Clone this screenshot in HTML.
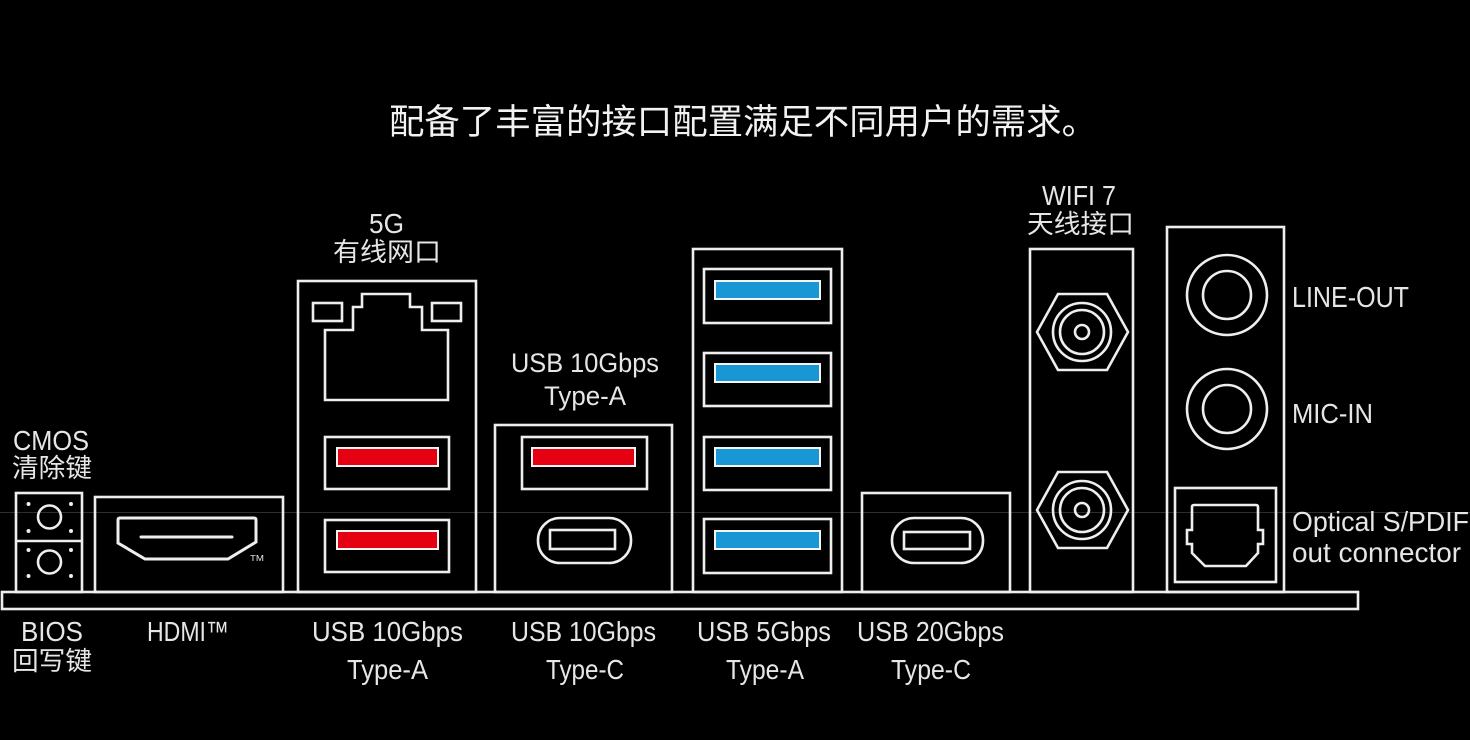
<!DOCTYPE html>
<html>
<head>
<meta charset="utf-8">
<style>
  html, body { margin:0; padding:0; background:#000; }
  body { width:1470px; height:740px; overflow:hidden; }
  svg { display:block; }
  .lat { font-family:"Liberation Sans", "Noto Sans CJK SC", sans-serif; }
  .cjk { font-family:"Liberation Sans", "Noto Sans CJK SC", sans-serif; }
</style>
</head>
<body>
<svg width="1470" height="740" viewBox="0 0 1470 740" xmlns="http://www.w3.org/2000/svg">
  <rect x="0" y="0" width="1470" height="740" fill="#000"/>
  <!-- faint scan line -->
  <line x1="0" y1="512.5" x2="1470" y2="512.5" stroke="#2e2e2e" stroke-width="1"/>

  <!-- Title -->
  <text class="cjk" x="389" y="134" font-size="35" fill="#f2f2f2" textLength="708" lengthAdjust="spacingAndGlyphs">配备了丰富的接口配置满足不同用户的需求。</text>

  <g fill="none" stroke="#eeeeee" stroke-width="2.6" stroke-linejoin="miter">
    <!-- Base bar -->
    <rect x="2" y="592" width="1356" height="17"/>

    <!-- CMOS / BIOS buttons -->
    <rect x="16" y="493" width="66" height="99"/>
    <line x1="16" y1="541" x2="82" y2="541"/>
    <circle cx="49.5" cy="517" r="11.5"/>
    <circle cx="49.5" cy="562" r="11.5"/>

    <!-- HDMI -->
    <rect x="95" y="497" width="188" height="95"/>
    <path d="M119,518 L254,518 Q256,518 256,520 L256,542 L228,559 L145,559 L118,543 L118,520 Q118,518 120,518 Z" stroke-width="3"/>
    <line x1="141" y1="537" x2="232" y2="537" stroke-width="3" stroke-linecap="round"/>

    <!-- LAN + USB 10G A -->
    <rect x="298" y="281" width="178" height="311"/>
    <rect x="313" y="303" width="29" height="18"/>
    <rect x="432" y="303" width="29" height="18"/>
    <path d="M325,400 L325,330 L353,330 L353,307 L362,307 L362,294 L410,294 L410,307 L422,307 L422,330 L448,330 L448,400 Z"/>
    <rect x="325" y="437" width="124" height="52"/>
    <rect x="325" y="520" width="124" height="52"/>

    <!-- USB 10G A/C -->
    <rect x="495" y="425" width="177" height="167"/>
    <rect x="522" y="437" width="125" height="52"/>
    <rect x="538" y="518" width="93" height="45" rx="22" ry="22"/>
    <rect x="550" y="530" width="65" height="19"/>

    <!-- USB 5G x4 -->
    <rect x="693" y="249" width="149" height="343"/>
    <rect x="704" y="269" width="127" height="54"/>
    <rect x="704" y="353" width="127" height="53"/>
    <rect x="704" y="437" width="127" height="53"/>
    <rect x="704" y="519" width="127" height="54"/>

    <!-- USB 20G C -->
    <rect x="862" y="493" width="148" height="99"/>
    <rect x="892" y="518" width="91" height="45" rx="22" ry="22"/>
    <rect x="904" y="532" width="66" height="17"/>

    <!-- WiFi -->
    <rect x="1030" y="249" width="103" height="343"/>
    <polygon points="1037,332 1058,294 1107,294 1128,332 1107,370 1058,370"/>
    <circle cx="1082" cy="332" r="29"/>
    <circle cx="1082" cy="332" r="22"/>
    <circle cx="1082" cy="332" r="7"/>
    <polygon points="1037,510 1058,472 1107,472 1128,510 1107,548 1058,548"/>
    <circle cx="1082" cy="510" r="29"/>
    <circle cx="1082" cy="510" r="22"/>
    <circle cx="1082" cy="510" r="7"/>

    <!-- Audio -->
    <rect x="1167" y="227" width="117" height="365"/>
    <circle cx="1227" cy="295" r="40"/>
    <circle cx="1227" cy="295" r="24"/>
    <circle cx="1227" cy="409" r="40"/>
    <circle cx="1227" cy="409" r="24"/>
    <rect x="1175" y="488" width="101" height="94"/>
    <path d="M1192,530 L1192,507 Q1192,505 1194,505 L1256,505 Q1258,505 1258,507 L1258,530 L1263,530 L1263,544 L1258,544 L1258,553 L1246,566 L1205,566 L1192,553 L1192,544 L1187,544 L1187,530 Z"/>
  </g>

  <!-- CMOS dots -->
  <g fill="#eeeeee">
    <circle cx="28.5" cy="504" r="2"/>
    <circle cx="71" cy="504" r="2"/>
    <circle cx="28.5" cy="531" r="2"/>
    <circle cx="71" cy="531" r="2"/>
    <circle cx="28.5" cy="550" r="2"/>
    <circle cx="71" cy="550" r="2"/>
    <circle cx="28.5" cy="576" r="2"/>
    <circle cx="71" cy="576" r="2"/>
  </g>

  <!-- Red USB tongues -->
  <g fill="#e50012" stroke="#f4f4f4" stroke-width="2">
    <rect x="337" y="448" width="101" height="18"/>
    <rect x="337" y="531" width="101" height="18"/>
    <rect x="532" y="448" width="103" height="18"/>
  </g>
  <!-- Blue USB tongues -->
  <g fill="#1897d4" stroke="#f4f4f4" stroke-width="2">
    <rect x="715" y="281" width="105" height="18"/>
    <rect x="715" y="364" width="105" height="18"/>
    <rect x="715" y="448" width="105" height="18"/>
    <rect x="715" y="531" width="105" height="18"/>
  </g>

  <!-- Labels -->
  <g fill="#e6e6e6" class="lat">
    <text x="250" y="561" font-size="8" textLength="14" lengthAdjust="spacingAndGlyphs">TM</text>

    <text x="13" y="450" font-size="28" textLength="76" lengthAdjust="spacingAndGlyphs">CMOS</text>
    <text x="12" y="477" font-size="26" textLength="80" lengthAdjust="spacingAndGlyphs">清除键</text>

    <text x="369" y="233" font-size="28" textLength="35" lengthAdjust="spacingAndGlyphs">5G</text>
    <text x="333" y="261" font-size="26" textLength="108" lengthAdjust="spacingAndGlyphs">有线网口</text>

    <text x="511" y="372" font-size="27" textLength="148" lengthAdjust="spacingAndGlyphs">USB 10Gbps</text>
    <text x="544" y="405" font-size="27" textLength="82" lengthAdjust="spacingAndGlyphs">Type-A</text>

    <text x="1042" y="205" font-size="28" textLength="74" lengthAdjust="spacingAndGlyphs">WIFI 7</text>
    <text x="1027" y="233" font-size="26" textLength="107" lengthAdjust="spacingAndGlyphs">天线接口</text>

    <text x="1292" y="307" font-size="29" textLength="117" lengthAdjust="spacingAndGlyphs">LINE-OUT</text>
    <text x="1292" y="423" font-size="28" textLength="81" lengthAdjust="spacingAndGlyphs">MIC-IN</text>
    <text x="1292" y="531" font-size="28" textLength="177" lengthAdjust="spacingAndGlyphs">Optical S/PDIF</text>
    <text x="1292" y="562" font-size="28" textLength="169" lengthAdjust="spacingAndGlyphs">out connector</text>

    <!-- bottom row -->
    <text x="21" y="641" font-size="28" textLength="62" lengthAdjust="spacingAndGlyphs">BIOS</text>
    <text x="12" y="670" font-size="26" textLength="80" lengthAdjust="spacingAndGlyphs">回写键</text>

    <text x="147" y="641" font-size="28" textLength="82" lengthAdjust="spacingAndGlyphs">HDMI™</text>

    <text x="312" y="641" font-size="28" textLength="151" lengthAdjust="spacingAndGlyphs">USB 10Gbps</text>
    <text x="347" y="679" font-size="28" textLength="81" lengthAdjust="spacingAndGlyphs">Type-A</text>

    <text x="511" y="641" font-size="28" textLength="145" lengthAdjust="spacingAndGlyphs">USB 10Gbps</text>
    <text x="546" y="679" font-size="28" textLength="78" lengthAdjust="spacingAndGlyphs">Type-C</text>

    <text x="697" y="641" font-size="28" textLength="134" lengthAdjust="spacingAndGlyphs">USB 5Gbps</text>
    <text x="726" y="679" font-size="28" textLength="78" lengthAdjust="spacingAndGlyphs">Type-A</text>

    <text x="857" y="641" font-size="28" textLength="147" lengthAdjust="spacingAndGlyphs">USB 20Gbps</text>
    <text x="891" y="679" font-size="28" textLength="80" lengthAdjust="spacingAndGlyphs">Type-C</text>
  </g>
</svg>
</body>
</html>
